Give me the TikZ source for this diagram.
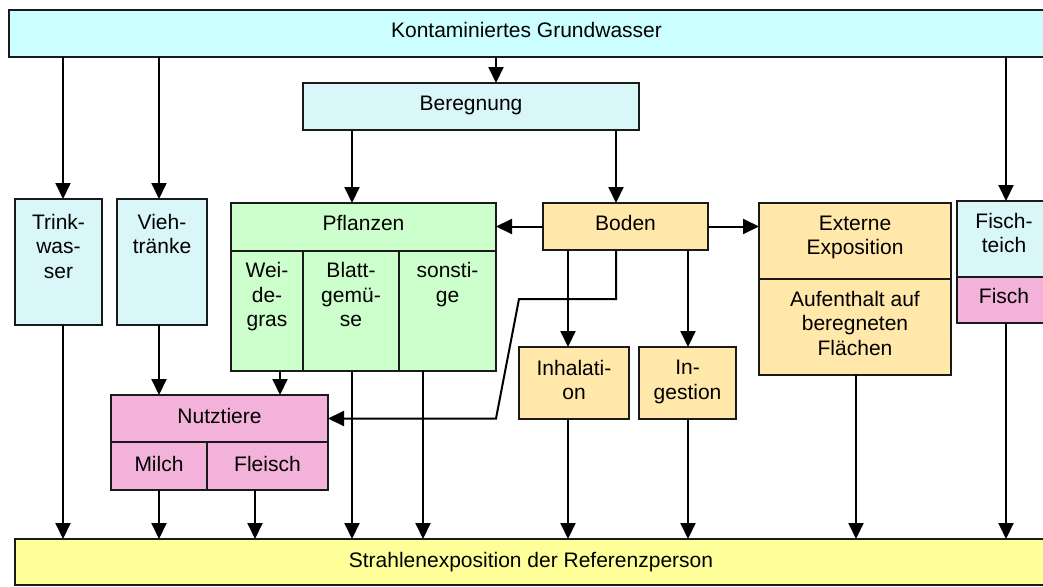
\documentclass[tikz,border=0pt]{standalone}
\usepackage{fontspec}
\setmainfont{Liberation Sans}
\usetikzlibrary{arrows.meta}
\definecolor{cyanTop}{HTML}{CCFFFF}
\definecolor{cyanBox}{HTML}{D9F6F8}
\definecolor{greenBox}{HTML}{CCFFCC}
\definecolor{orangeBox}{HTML}{FFE8AA}
\definecolor{pinkBox}{HTML}{F3B2D9}
\definecolor{yellowBox}{HTML}{FFFF99}
\definecolor{edge}{HTML}{1A1A1A}
\begin{document}
\begin{tikzpicture}[x=1pt,y=-1pt,
  cell/.style={draw=edge, line width=2pt, rectangle, inner sep=0pt, outer sep=0pt, anchor=north west},
  txt/.style={inner sep=0pt, anchor=north, align=center, font=\fontsize{21}{24.5}\selectfont},
  conn/.style={line width=2pt, draw=black, -{Triangle[length=16pt,width=15pt]}},
  ln/.style={line width=2pt, draw=black}]
\useasboundingbox (0,0) rectangle (1043,586);

% boxes
\node[cell, fill=cyanTop, minimum width=1035, minimum height=47] (top) at (9,10) {};
\node[cell, fill=cyanBox, minimum width=336, minimum height=47] (ber) at (303,83) {};
\node[cell, fill=cyanBox, minimum width=87, minimum height=126] (trink) at (15,199) {};
\node[cell, fill=cyanBox, minimum width=90, minimum height=126] (vieh) at (117,199) {};
\node[cell, fill=greenBox, minimum width=265, minimum height=48] (pfl) at (231,203) {};
\node[cell, fill=greenBox, minimum width=72, minimum height=120] (wei) at (231,251) {};
\node[cell, fill=greenBox, minimum width=96, minimum height=120] (bla) at (303,251) {};
\node[cell, fill=greenBox, minimum width=97, minimum height=120] (son) at (399,251) {};
\node[cell, fill=orangeBox, minimum width=165, minimum height=47] (boden) at (543,203) {};
\node[cell, fill=orangeBox, minimum width=192, minimum height=76] (ext) at (759,203) {};
\node[cell, fill=orangeBox, minimum width=192, minimum height=96] (auf) at (759,279) {};
\node[cell, fill=cyanBox, minimum width=94, minimum height=76] (fteich) at (957,201) {};
\node[cell, fill=pinkBox, minimum width=94, minimum height=46] (fisch) at (957,277) {};
\node[cell, fill=orangeBox, minimum width=110, minimum height=72] (inh) at (519,347) {};
\node[cell, fill=orangeBox, minimum width=97, minimum height=72] (ing) at (639,347) {};
\node[cell, fill=pinkBox, minimum width=217, minimum height=47] (nutz) at (111,395) {};
\node[cell, fill=pinkBox, minimum width=96, minimum height=48] (milch) at (111,442) {};
\node[cell, fill=pinkBox, minimum width=121, minimum height=48] (fleisch) at (207,442) {};
\node[cell, fill=yellowBox, minimum width=1032, minimum height=46] (strahl) at (15,539) {};

% texts
\node[txt] at ([yshift=-12.5pt]top.north) {Kontaminiertes Grundwasser};
\node[txt] at ([yshift=-12.5pt]ber.north) {Beregnung};
\node[txt] at ([yshift=-15pt]trink.north) {Trink-\\was-\\ser};
\node[txt] at ([yshift=-15pt]vieh.north) {Vieh-\\tränke};
\node[txt] at ([yshift=-12.5pt]pfl.north) {Pflanzen};
\node[txt] at ([yshift=-11.5pt]wei.north) {Wei-\\de-\\gras};
\node[txt] at ([yshift=-11.5pt]bla.north) {Blatt-\\gemü-\\se};
\node[txt] at ([yshift=-11.5pt]son.north) {sonsti-\\ge};
\node[txt] at ([yshift=-12.5pt]boden.north) {Boden};
\node[txt] at ([yshift=-12.5pt]ext.north) {Externe\\Exposition};
\node[txt] at ([yshift=-12pt]auf.north) {Aufenthalt auf\\beregneten\\Flächen};
\node[txt] at ([yshift=-12pt]fteich.north) {Fisch-\\teich};
\node[txt] at ([yshift=-11pt]fisch.north) {Fisch};
\node[txt] at ([yshift=-13pt]inh.north) {Inhalati-\\on};
\node[txt] at ([yshift=-13pt]ing.north) {In-\\gestion};
\node[txt] at ([yshift=-13pt]nutz.north) {Nutztiere};
\node[txt] at ([yshift=-14pt]milch.north) {Milch};
\node[txt] at ([yshift=-14pt]fleisch.north) {Fleisch};
\node[txt] at ([yshift=-13pt]strahl.north) {Strahlenexposition der Referenzperson};

% x references for connectors
\coordinate (cA) at (63,0);
\coordinate (cB) at (159,0);
\coordinate (cC) at (496,0);
\coordinate (cD) at (1006,0);
\coordinate (cE) at (352,0);
\coordinate (cF) at (616,0);
\coordinate (cG) at (280,0);
\coordinate (cH) at (255,0);
\coordinate (cI) at (423,0);
\coordinate (cJ) at (568,0);
\coordinate (cK) at (688,0);
\coordinate (cL) at (856,0);
\coordinate (cM) at (496,0);

% connectors
\draw[conn] (top.south -| cA) -- (trink.north -| cA);
\draw[conn] (trink.south -| cA) -- (strahl.north -| cA);
\draw[conn] (top.south -| cB) -- (vieh.north -| cB);
\draw[conn] (vieh.south -| cB) -- (nutz.north -| cB);
\draw[conn] (milch.south -| cB) -- (strahl.north -| cB);
\draw[conn] (top.south -| cC) -- (ber.north -| cC);
\draw[conn] (top.south -| cD) -- (fteich.north -| cD);
\draw[conn] (fisch.south -| cD) -- (strahl.north -| cD);
\draw[conn] (ber.south -| cE) -- (pfl.north -| cE);
\draw[conn] (bla.south -| cE) -- (strahl.north -| cE);
\draw[conn] (ber.south -| cF) -- (boden.north -| cF);
\draw[conn] (wei.south -| cG) -- (nutz.north -| cG);
\draw[conn] (fleisch.south -| cH) -- (strahl.north -| cH);
\draw[conn] (son.south -| cI) -- (strahl.north -| cI);
\draw[conn] (boden.south -| cJ) -- (inh.north -| cJ);
\draw[conn] (inh.south -| cJ) -- (strahl.north -| cJ);
\draw[conn] (boden.south -| cK) -- (ing.north -| cK);
\draw[conn] (ing.south -| cK) -- (strahl.north -| cK);
\draw[conn] (auf.south -| cL) -- (strahl.north -| cL);
\draw[conn] (boden.west) -- (pfl.east |- boden.west);
\draw[conn] (boden.east) -- (ext.west |- boden.east);
\draw[conn] (boden.south -| cF) -- ++(0,49) -- ++(-97,0) -- (nutz.east -| cM) -- (nutz.east);
\end{tikzpicture}
\end{document}
